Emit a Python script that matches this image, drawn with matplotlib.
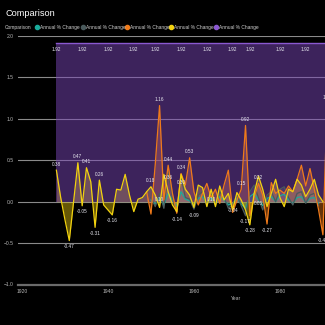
import matplotlib
matplotlib.use('Agg')
import matplotlib.pyplot as plt
from matplotlib.lines import Line2D

plt.rcParams['font.family'] = ['Liberation Sans', 'DejaVu Sans']

# annual % change series
yellow_start = 1928
yellow_values = [0.38, 0.05, -0.22, -0.47, 0.0, 0.47, -0.05, 0.41, 0.24, -0.31,
                 0.26, -0.04, -0.10, -0.16, 0.15, 0.14, 0.33, 0.08, -0.12, 0.03,
                 0.05, 0.12, 0.18, 0.08, -0.07, 0.33, 0.12, -0.04, -0.12, 0.33,
                 0.15, 0.08, -0.07, 0.20, 0.17, -0.06, 0.15, -0.06, 0.19, 0.02,
                 0.10, -0.10, 0.11, 0.02, -0.10, -0.28, 0.10, 0.31, 0.15, -0.06,
                 0.10, 0.27, 0.05, -0.06, 0.15, 0.12, 0.27, 0.20, 0.06, 0.15,
                 0.27, 0.08, 0.00]

orange_start = 1949
orange_values = [0.12, -0.15, 0.45, 1.16, 0.02, 0.44, 0.10, -0.14, 0.34, 0.20,
                 0.53, 0.12, -0.04, 0.10, 0.22, 0.05, 0.15, -0.02, 0.20, 0.38,
                 -0.13, 0.02, 0.15, 0.92, -0.17, 0.05, 0.22, 0.08, -0.27, 0.23,
                 0.10, 0.14, 0.10, 0.19, 0.12, 0.27, 0.44, 0.19, 0.40, 0.15,
                 -0.10, -0.40, 1.18]

gray_start = 1950
gray_values = [0.05, -0.06, 0.10, -0.08, 0.36, 0.05, -0.13, 0.30, 0.05, 0.03,
               -0.09, 0.08, 0.12, -0.04, 0.10, -0.04, 0.12, 0.05, -0.08, -0.04,
               0.08, -0.05, -0.17, 0.12, 0.20, 0.05, -0.10, 0.08, 0.12, 0.00,
               0.15, 0.18, 0.05, -0.04, 0.10, 0.12, -0.02, 0.08, 0.10, -0.05]

teal_start = 1950
teal_values = [0.02, -0.03, 0.05, -0.04, 0.10, 0.02, -0.06, 0.12, 0.03, 0.01,
               -0.05, 0.04, 0.06, -0.02, 0.05, -0.02, 0.06, 0.02, -0.04, -0.02,
               0.04, -0.03, -0.08, 0.06, 0.10, 0.02, -0.05, 0.04, 0.06, 0.00,
               0.07, 0.09, 0.02, -0.02, 0.05, 0.06, -0.01, 0.04, 0.05, -0.02]

purple_start = 1928
purple_values = [1.92] * 93

yellow_label_years = [1928, 1931, 1933, 1934, 1935, 1937, 1938, 1941, 1950, 1973]
orange_label_years = [1952, 1954, 1956, 1957, 1959, 1971, 1972, 1975, 1977, 1990, 1991]
gray_label_years = [1952, 1954, 1957, 1960, 1964, 1969, 1972, 1975]
purple_label_years = [1928, 1934, 1940, 1946, 1951, 1957, 1963, 1969, 1973, 1980, 1986]

legend_names = ['Annual % Change'] * 5
colors = {'teal': '#1aab9b', 'gray': '#4a5a5c', 'orange': '#ef7a1a',
          'yellow': '#f2d20f', 'purple': '#8a58d0'}


def years_for(start, values):
    return list(range(start, start + len(values)))


def add_labels(ax, start, values, label_years, where='auto'):
    for yr in label_years:
        v = values[yr - start]
        if where == 'inside':
            dy, va = -3.5, 'top'
        elif where == 'below' or v < 0:
            dy, va = -2.5, 'top'
        else:
            dy, va = 2.5, 'bottom'
        ax.annotate('%.2f' % v, (yr, v), xytext=(0, dy), textcoords='offset points',
                    ha='center', va=va, fontsize=3.4, color='#e8e8f0', zorder=10)


fig = plt.figure(figsize=(3.25, 3.25), dpi=100, facecolor='black')
ax = fig.add_axes([18 / 325, 40.5 / 325, 436 / 325, 248.5 / 325])
ax.set_facecolor('black')

ax.set_xlim(1919.07, 2020.5)
ax.set_ylim(-1.0, 2.0)
ax.set_yticks([-1.0, -0.5, 0.0, 0.5, 1.0, 1.5, 2.0])
ax.set_xticks([1920, 1940, 1960, 1980, 2000, 2020])
ax.set_axisbelow(True)
ax.grid(axis='y', color='#8a8a8a', linewidth=0.8)
ax.grid(axis='x', visible=False)
for side in ['top', 'right', 'left']:
    ax.spines[side].set_visible(False)
ax.spines['bottom'].set_color('#6a6a6a')
ax.spines['bottom'].set_linewidth(1.6)
ax.tick_params(axis='both', length=0, labelsize=3.6, colors='#b8b8b8')
ax.tick_params(axis='y', pad=3)
ax.tick_params(axis='x', pad=3)
ax.set_xlabel('Year', fontsize=3.6, color='#b8b8b8', labelpad=2)

series = [
    ('teal', teal_start, teal_values),
    ('gray', gray_start, gray_values),
    ('orange', orange_start, orange_values),
    ('yellow', yellow_start, yellow_values),
]

for name, start, values in series:
    xs = years_for(start, values)
    ax.fill_between(xs, values, 0, color=colors[name], alpha=0.42, linewidth=0, zorder=1)

px = years_for(purple_start, purple_values)
ax.fill_between(px, purple_values, 0, color='#7a46b8', alpha=0.5, linewidth=0, zorder=2)
ax.plot(px, purple_values, color=colors['purple'], linewidth=1.0, zorder=3)

for name, start, values in series:
    xs = years_for(start, values)
    ax.plot(xs, values, color=colors[name], linewidth=0.9, zorder=4)

add_labels(ax, yellow_start, yellow_values, yellow_label_years)
add_labels(ax, orange_start, orange_values, orange_label_years)
add_labels(ax, gray_start, gray_values, gray_label_years, where='below')
add_labels(ax, purple_start, purple_values, purple_label_years, where='inside')

# title and legend row
fig.text(5 / 325, 1 - 14 / 325, 'Comparison', fontsize=6.6, color='white', va='center')
fig.text(5 / 325, 1 - 27 / 325, 'Comparison', fontsize=3.5, color='#d0d0d0', va='center')
dot_x = [37, 83, 127, 171, 216]
for x, key, label in zip(dot_x, ['teal', 'gray', 'orange', 'yellow', 'purple'], legend_names):
    fig.add_artist(Line2D([x / 325], [1 - 27 / 325], marker='o', markersize=3,
                          color=colors[key], linestyle='none', transform=fig.transFigure))
    fig.text((x + 3) / 325, 1 - 27 / 325, label, fontsize=3.5, color='#d0d0d0', va='center')

fig.savefig('out.png', dpi=100, facecolor='black')
